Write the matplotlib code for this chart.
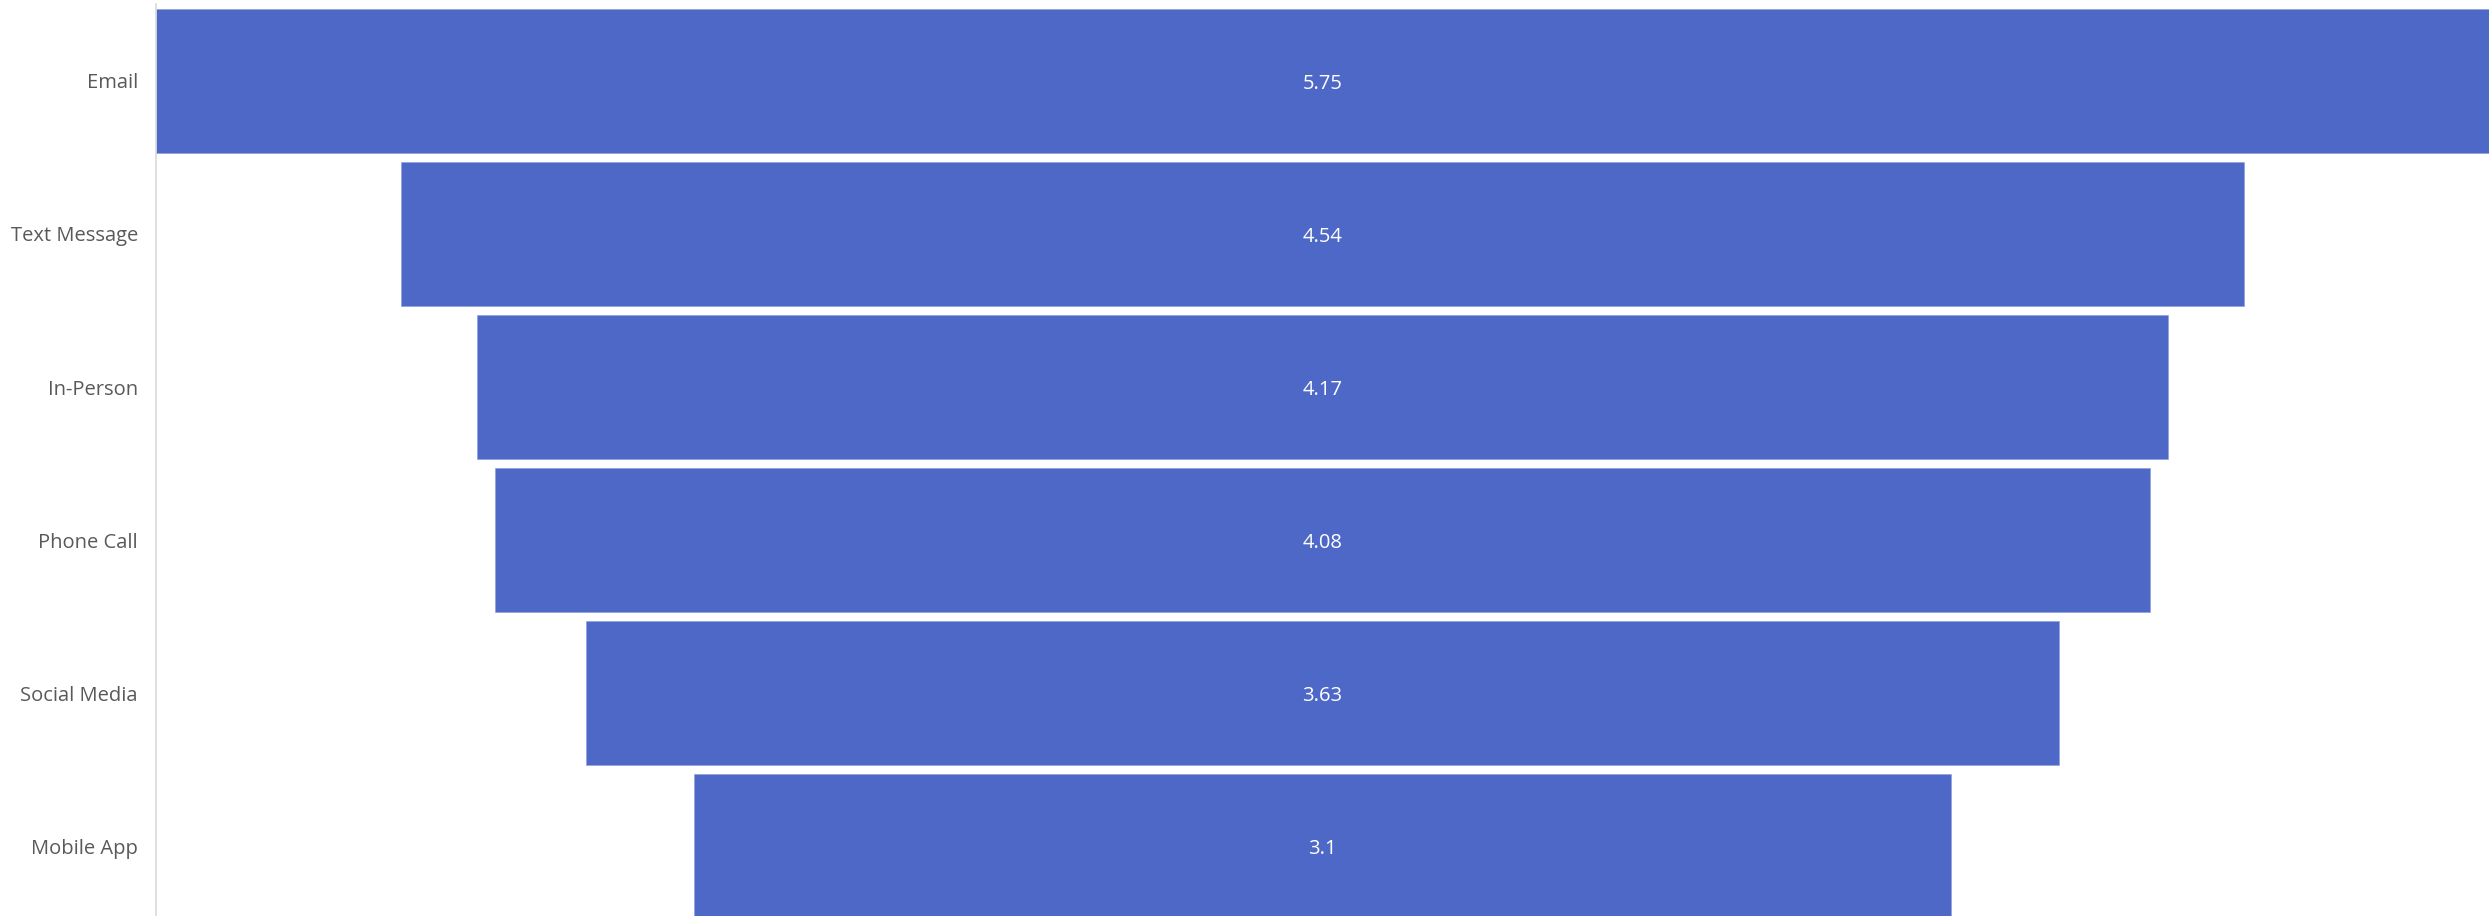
import matplotlib.pyplot as plt

# Funnel stages and their scores
stages = ['Email', 'Text Message', 'In-Person', 'Phone Call', 'Social Media', 'Mobile App']
scores = [5.75, 4.54, 4.17, 4.08, 3.63, 3.1]

bar_color = '#4e68c8'
label_color = '#595959'

plt.rcParams['font.family'] = ['Open Sans', 'DejaVu Sans']

fig = plt.figure(figsize=(24.89, 9.16), dpi=100)
ax = fig.add_axes([156 / 2489, 0, 1 - 156 / 2489, 1 - 4 / 916])

ypos = list(range(len(stages)))
lefts = [-s / 2 for s in scores]
ax.barh(ypos, scores, left=lefts, height=0.94, color=bar_color,
        edgecolor='#8a9ad8', linewidth=0.4)

# value labels in the middle of each bar
for y, s in zip(ypos, scores):
    ax.text(0, y + 0.02, f'{s:g}', ha='center', va='center', color='white', fontsize=14.5)

half = max(scores) / 2
ax.set_xlim(-half, half)
ax.set_ylim(5.457, -0.503)

ax.set_yticks(ypos)
ax.set_yticklabels(stages, fontsize=14.5, color=label_color)
ax.tick_params(axis='y', length=0, pad=13)
ax.set_xticks([])

for side in ['top', 'right', 'bottom']:
    ax.spines[side].set_visible(False)
ax.spines['left'].set_color('#d9d9d9')
ax.spines['left'].set_linewidth(1.2)

fig.savefig('out.png', dpi=100)
